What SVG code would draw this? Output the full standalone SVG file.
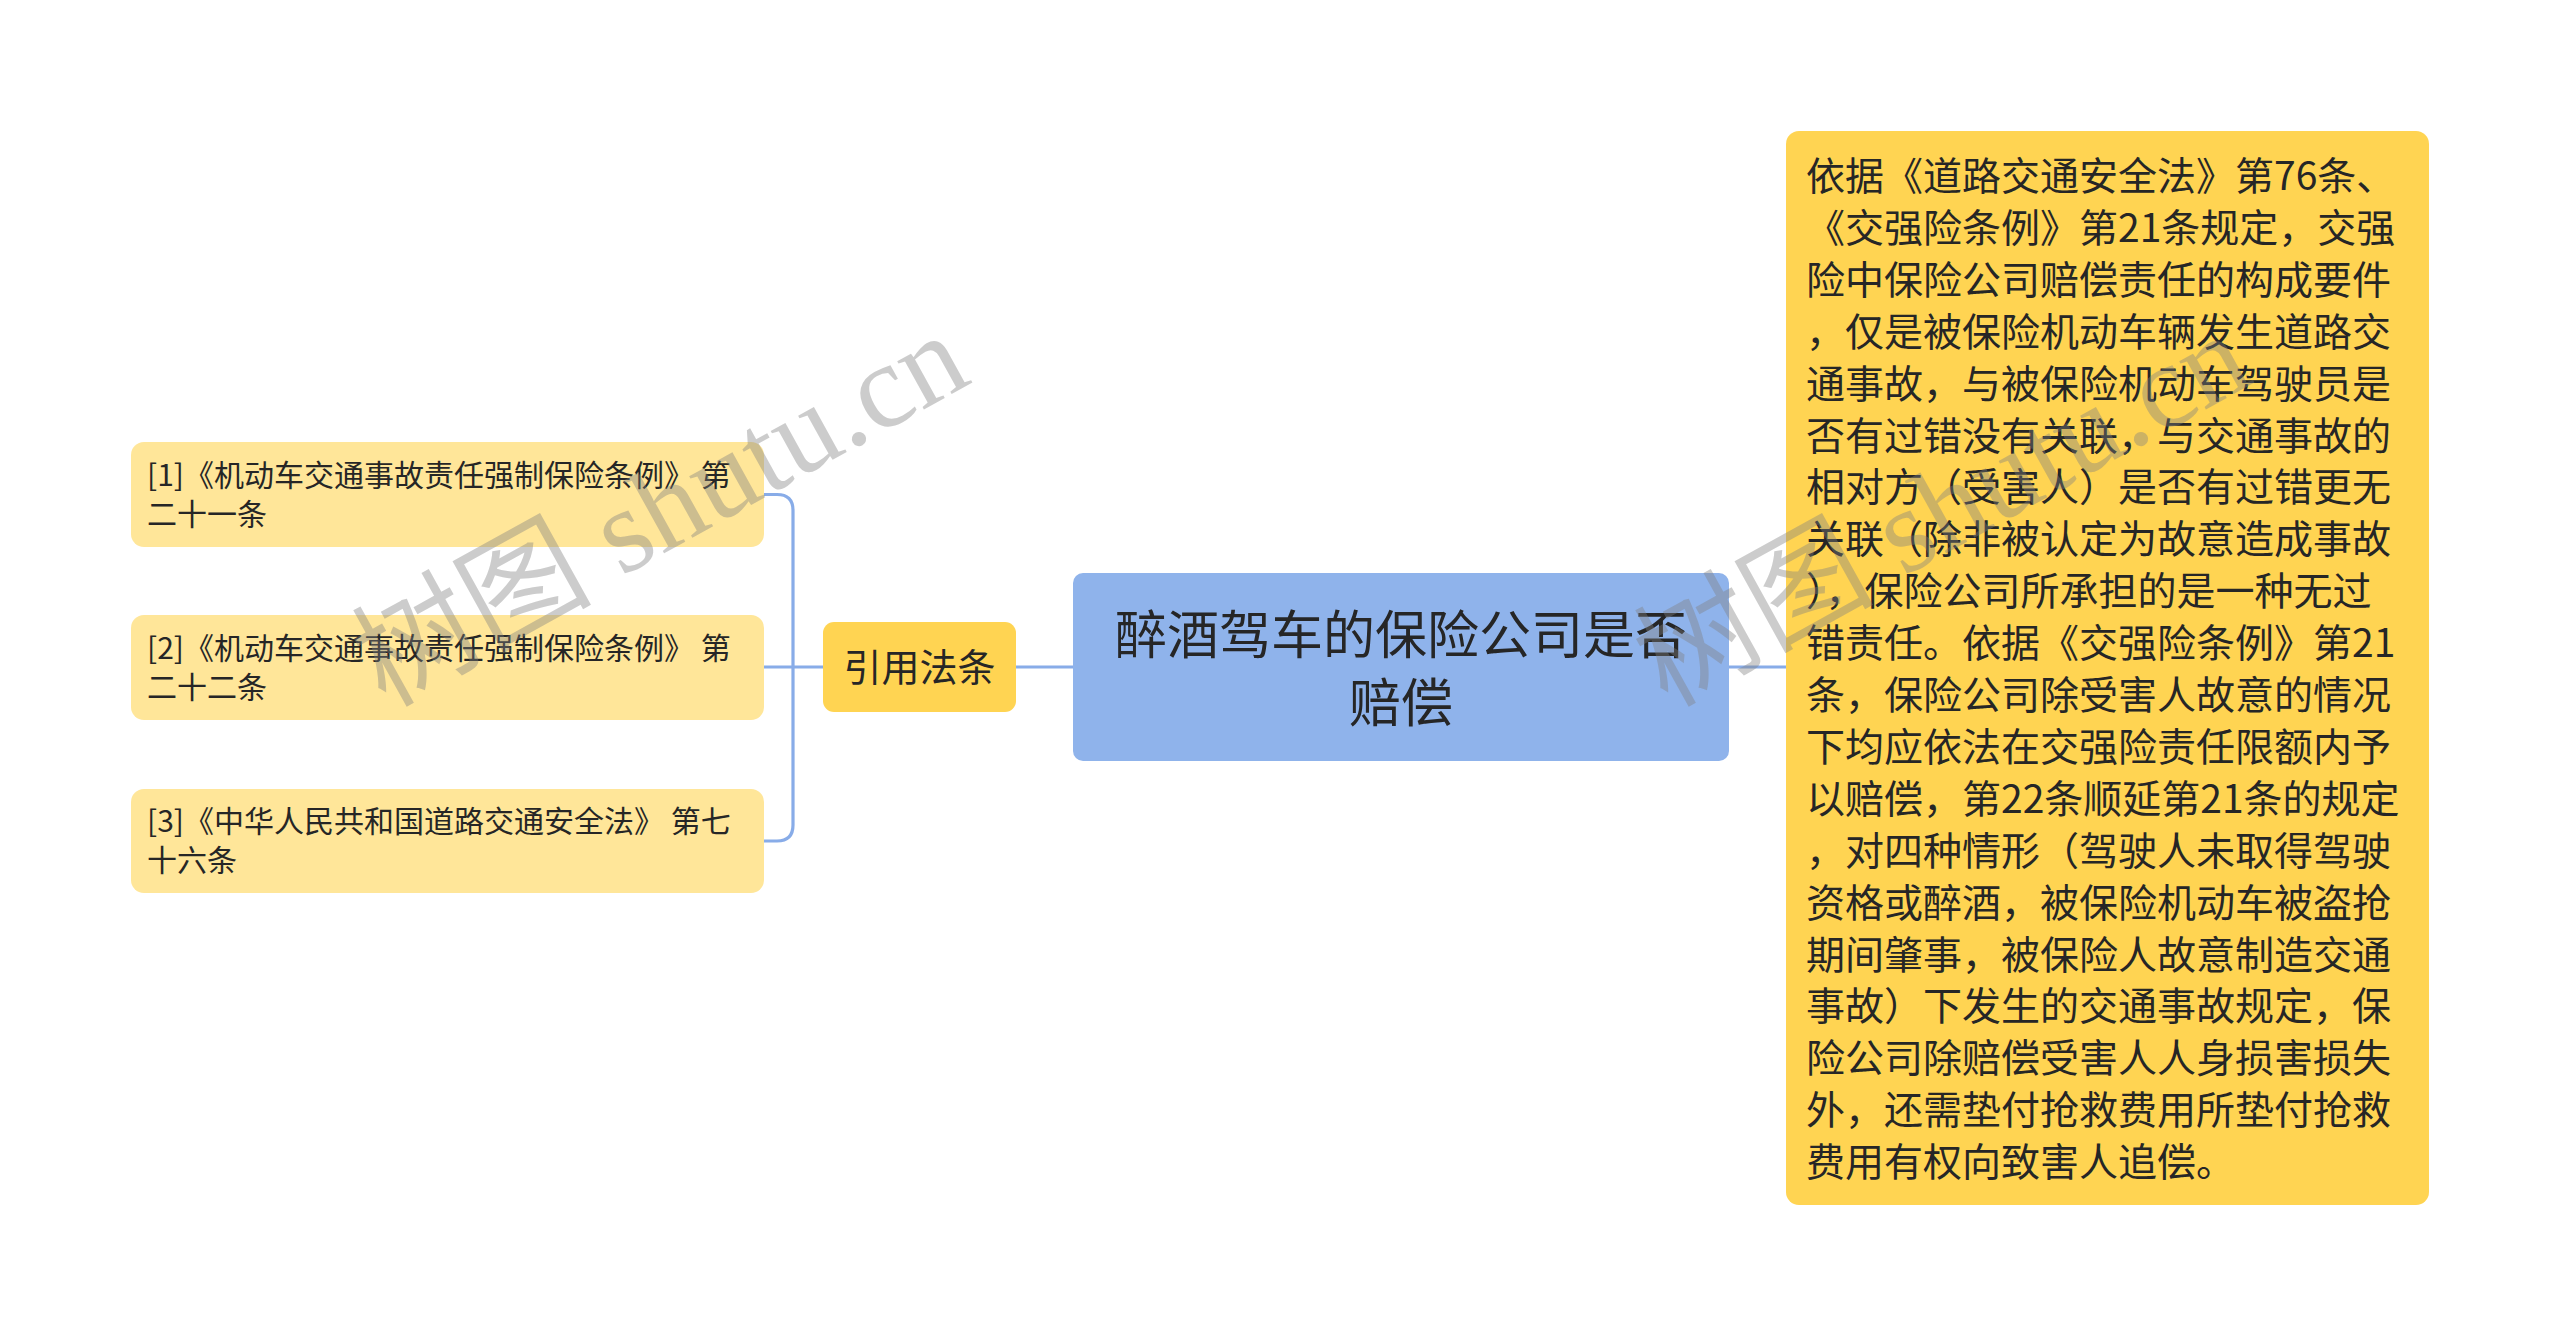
<svg xmlns="http://www.w3.org/2000/svg" width="2560" height="1336" viewBox="0 0 2560 1336">
<style>
.t{font-family:"Noto Sans CJK SC","Noto Sans",sans-serif;fill:#262626}
.leaf{fill:#FFE699}
.gold{fill:#FFD452}
.root{fill:#8FB3EB}
.conn{fill:none;stroke:#88ACE8;stroke-width:3.2}
.wm{font-family:"Liberation Serif","Noto Sans CJK SC",serif;fill:#808080;fill-opacity:0.4}
</style>
<rect width="2560" height="1336" fill="#ffffff"/>
<g id="connectors">
<path class="conn" d="M764,494.5 H777 Q793,494.5 793,510.5 V825 Q793,841 777,841 H764"/>
<path class="conn" d="M764,667 H823"/>
<path class="conn" d="M1016,667 H1073"/>
<path class="conn" d="M1729,667 H1786"/>
</g>
<g id="leaf1">
<rect class="leaf" x="131" y="442" width="633" height="105" rx="13"/>
<text class="t" font-size="30"><tspan x="147" y="486">[1]《机动车交通事故责任强制保险条例》 第</tspan><tspan x="147" y="525">二十一条</tspan></text>
</g>
<g id="leaf2">
<rect class="leaf" x="131" y="615" width="633" height="105" rx="13"/>
<text class="t" font-size="30"><tspan x="147" y="659">[2]《机动车交通事故责任强制保险条例》 第</tspan><tspan x="147" y="698">二十二条</tspan></text>
</g>
<g id="leaf3">
<rect class="leaf" x="131" y="789" width="633" height="104" rx="13"/>
<text class="t" font-size="30"><tspan x="147" y="832">[3]《中华人民共和国道路交通安全法》 第七</tspan><tspan x="147" y="871">十六条</tspan></text>
</g>
<g id="cite">
<rect class="gold" x="823" y="622" width="193" height="90" rx="11"/>
<text class="t" font-size="38" x="919.5" y="681" text-anchor="middle">引用法条</text>
</g>
<g id="root">
<rect class="root" x="1073" y="573" width="656" height="188" rx="10"/>
<text class="t" font-size="52" text-anchor="middle"><tspan x="1401" y="654">醉酒驾车的保险公司是否</tspan><tspan x="1401" y="722">赔偿</tspan></text>
</g>
<g id="detail">
<rect class="gold" x="1786" y="131" width="643" height="1074" rx="13"/>
<text class="t" font-size="39">
<tspan x="1806" y="190">依据《道路交通安全法》第76条、</tspan>
<tspan x="1806" y="241.9">《交强险条例》第21条规定，交强</tspan>
<tspan x="1806" y="293.8">险中保险公司赔偿责任的构成要件</tspan>
<tspan x="1806" y="345.7">，仅是被保险机动车辆发生道路交</tspan>
<tspan x="1806" y="397.6">通事故，与被保险机动车驾驶员是</tspan>
<tspan x="1806" y="449.5">否有过错没有关联，与交通事故的</tspan>
<tspan x="1806" y="501.4">相对方（受害人）是否有过错更无</tspan>
<tspan x="1806" y="553.3">关联（除非被认定为故意造成事故</tspan>
<tspan x="1806" y="605.2">），保险公司所承担的是一种无过</tspan>
<tspan x="1806" y="657.1">错责任。依据《交强险条例》第21</tspan>
<tspan x="1806" y="709">条，保险公司除受害人故意的情况</tspan>
<tspan x="1806" y="760.9">下均应依法在交强险责任限额内予</tspan>
<tspan x="1806" y="812.8">以赔偿，第22条顺延第21条的规定</tspan>
<tspan x="1806" y="864.7">，对四种情形（驾驶人未取得驾驶</tspan>
<tspan x="1806" y="916.6">资格或醉酒，被保险机动车被盗抢</tspan>
<tspan x="1806" y="968.5">期间肇事，被保险人故意制造交通</tspan>
<tspan x="1806" y="1020.4">事故）下发生的交通事故规定，保</tspan>
<tspan x="1806" y="1072.3">险公司除赔偿受害人人身损害损失</tspan>
<tspan x="1806" y="1124.2">外，还需垫付抢救费用所垫付抢救</tspan>
<tspan x="1806" y="1176.1">费用有权向致害人追偿。</tspan>
</text>
</g>
<g id="watermark">
<text class="wm" font-size="120" transform="translate(385,708) rotate(-29)">树图 shutu.cn</text>
<text class="wm" font-size="120" transform="translate(1667,708) rotate(-29)">树图 shutu.cn</text>
</g>
</svg>
